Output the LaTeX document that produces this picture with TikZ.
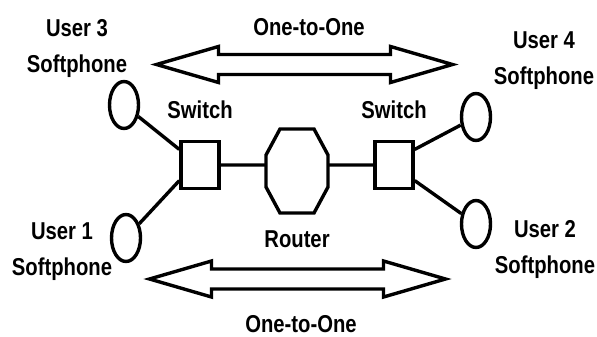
\documentclass[tikz,border=0pt]{standalone}
\usepackage{fontspec}
\setmainfont{Liberation Sans}[FakeStretch=0.83]
\usepackage{tikz}
\usetikzlibrary{positioning, shapes.geometric}

\begin{document}
\begin{tikzpicture}[
	x=0.5pt,
	y=-0.5pt,
	thick,
	line width=1.7pt,
	font=\bfseries\fontsize{12.2}{18}\selectfont,
	phone/.style={ellipse, draw, minimum width=14.5pt, minimum height=23.5pt, inner sep=0pt},
	switchbox/.style={rectangle, draw, minimum width=19pt, minimum height=23.5pt, inner sep=0pt},
	routerbox/.style={rectangle, minimum width=31pt, minimum height=42pt, inner sep=0pt, outer sep=0pt},
	txt/.style={inner sep=0pt, align=center}
]

\tikzset{twoway/.pic={
	\draw [line join=miter] (-148,0) -- (-86,-18) -- (-86,-10) -- (86,-10) -- (86,-18)
	      -- (148,0) -- (86,18) -- (86,10) -- (-86,10) -- (-86,18) -- cycle;
}}

\useasboundingbox (0,0) rectangle (597,336);

 \node [switchbox] (switch_1) at (200,165) {};
 \node [switchbox] (switch_2) at (394,165) {};
 \node [routerbox] (router)   at (297,171) {};

 % octagon round the router node
 \draw ([xshift=7pt]router.north west) -- ([xshift=-7pt]router.north east)
    -- ([yshift=-13pt]router.north east) -- ([yshift=13pt]router.south east)
    -- ([xshift=-7pt]router.south east) -- ([xshift=7pt]router.south west)
    -- ([yshift=13pt]router.south west) -- ([yshift=-13pt]router.north west) -- cycle;

 \node [phone] (user_3) at (124,105) {};
 \node [phone] (user_4) at (476,117) {};
 \node [phone] (user_1) at (126,238) {};
 \node [phone] (user_2) at (476,224) {};

 \node [txt] (sw_lab_1) [above=9.5pt of switch_1] {Switch};
 \node [txt] (sw_lab_2) [above=9.5pt of switch_2] {Switch};
 \node [txt] (rt_lab)   [below=8pt of router]     {Router};

 \node [txt] (u_lab_3) at (77,49)  {User 3\\Softphone};
 \node [txt] (u_lab_4) at (544,61) {User 4\\Softphone};
 \node [txt] (u_lab_1) at (62,252) {User 1\\Softphone};
 \node [txt] (u_lab_2) at (545,250) {User 2\\Softphone};

 \node [txt] (top_lab) at (309,27)  {One-to-One};
 \node [txt] (bot_lab) at (301,324) {One-to-One};

 \pic at (304.5,64.5) {twoway};
 \pic at (297.5,279)  {twoway};

 \draw (user_3) -- (switch_1.143)
       (user_1) -- (switch_1.217)
       (switch_1) -- (switch_1 -| router.west)
       (switch_2 -| router.east) -- (switch_2)
       (switch_2.37)  -- (user_4)
       (switch_2.323) -- (user_2);

\end{tikzpicture}
\end{document}
